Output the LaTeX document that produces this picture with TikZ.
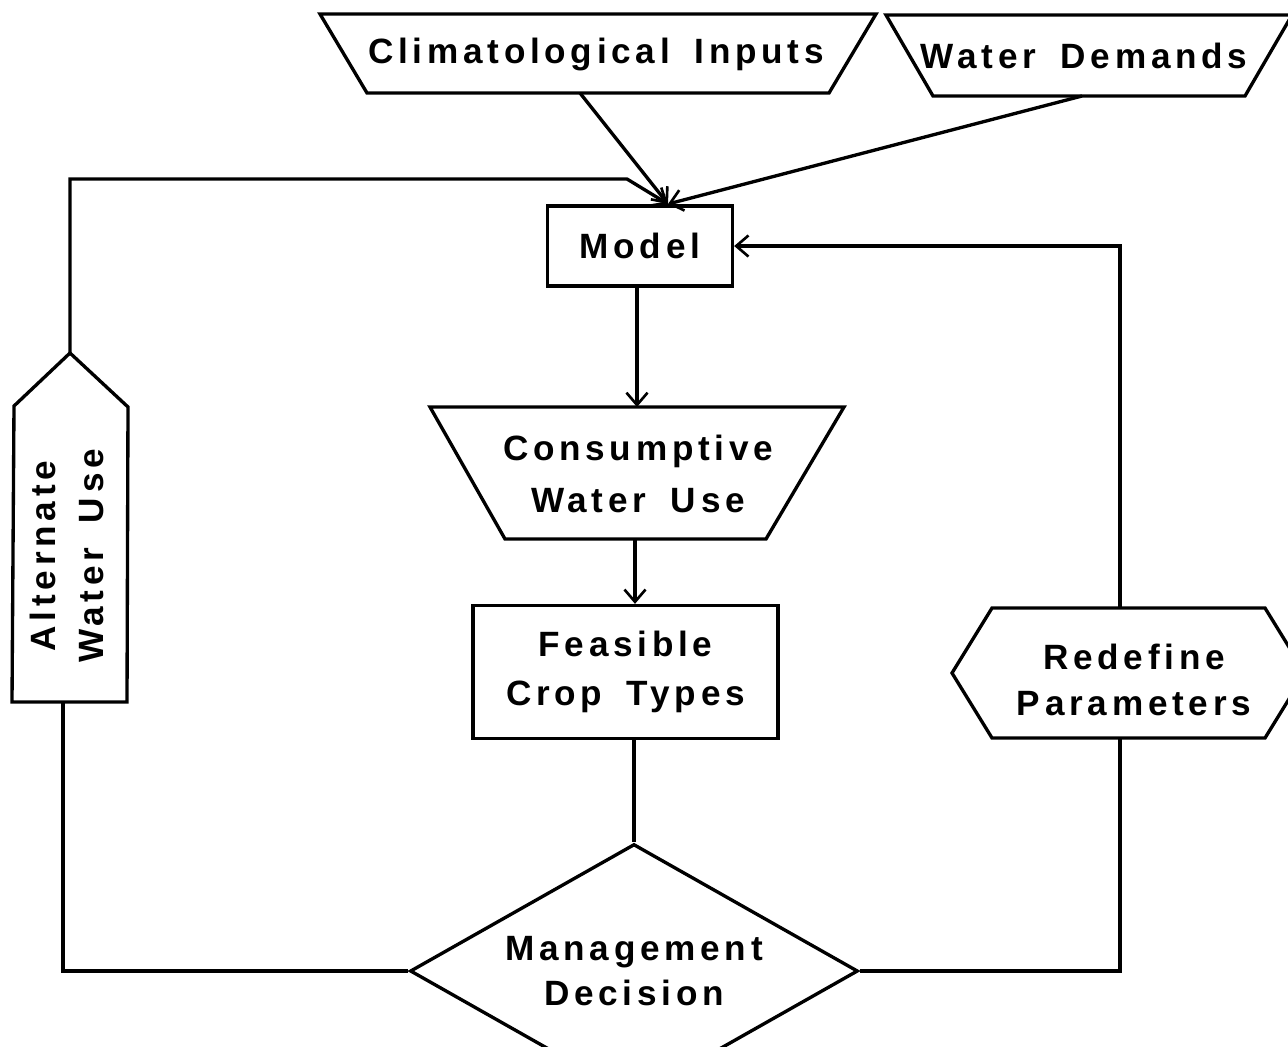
\documentclass[tikz,border=0pt]{standalone}
\usepackage{fontspec}
\newfontfamily\lblfont[LetterSpace=13.5, WordSpace=1.7]{Liberation Sans}
\usetikzlibrary{arrows.meta,shapes.geometric}
\begin{document}
\begin{tikzpicture}[x=0.02cm,y=-0.02cm,
  line width=1.9pt,
  box/.style={draw, line width=1.9pt},
  lbl/.style={font=\lblfont\bfseries\fontsize{20}{28}\selectfont, align=center, inner sep=0pt},
  flow/.style={-{Straight Barb[length=7pt,width=12pt,line width=1.5pt]}},
]
\useasboundingbox (0,0) rectangle (1288,1046);
\clip (0,0) rectangle (1288,1046);

% input blocks
\draw[box] (320,14) -- (876,14) -- (829,93) -- (367,93) -- cycle;
\node[lbl] (clim) at (596,54) {Climatological Inputs};
\coordinate (clim-out) at (580,93);

\draw[box] (886,15) -- (1292,15) -- (1245,96) -- (933,96) -- cycle;
\node[lbl] (wd) at (1084,56) {Water Demands};
\coordinate (wd-out) at (1082,96);

% model
\node[box, lbl, minimum width=3.7cm, minimum height=1.6cm] (model) at (640,246) {Model};
\coordinate (model-in) at (668,204);

% consumptive water use
\draw[box] (430,407) -- (844,407) -- (766,539) -- (505,539) -- cycle;
\node[lbl, font=\lblfont\bfseries\fontsize{20}{30}\selectfont] (cons) at (638,474) {Consumptive\\Water Use};
\coordinate (cons-n) at (637,407);
\coordinate (cons-s) at (635,539);

% feasible crop types
\node[box, lbl, minimum width=6.1cm, minimum height=2.66cm] (feas) at (625.5,672) {Feasible\\Crop Types};

% management decision
\node[box, lbl, shape=diamond, aspect=1.76, minimum width=8.96cm, minimum height=5.08cm,
      font=\lblfont\bfseries\fontsize{20}{26}\selectfont] (dec) at (634,971) {Management\\Decision};

% alternate water use
\draw[box] (70,353) -- (128,407) -- (127,702) -- (12,702) -- (14,406) -- cycle;
\node[lbl, rotate=90, font=\lblfont\bfseries\fontsize{20}{27}\selectfont] (alt) at (67,556) {Alternate\\Water Use};
\coordinate (alt-tip) at (70,353);
\coordinate (alt-base) at (63,702);
\coordinate (fb-bend) at (627,179);

% redefine parameters
\draw[box] (992,608) -- (1265,608) -- (1305,673) -- (1265,738) -- (992,738) -- (952,673) -- cycle;
\node[lbl, font=\lblfont\bfseries\fontsize{20}{26}\selectfont] (redef) at (1134,680) {Redefine\\Parameters};
\coordinate (redef-n) at (1120,608);
\coordinate (redef-s) at (1120,738);

% connectors
\draw[flow] (clim-out) -- (model-in);
\draw[flow] (wd-out) -- (model-in);
\draw[flow] (alt-tip) |- (fb-bend) -- (model-in);
\draw[flow] (cons-n |- model.south) -- (cons-n);
\draw[flow] (cons-s) -- (cons-s |- feas.north);
\draw (dec.north |- feas.south) -- (dec.north);
\draw (dec.west) -| (alt-base);
\draw (dec.east) -| (redef-s);
\draw[flow] (redef-n) |- (model.east);
\end{tikzpicture}
\end{document}
